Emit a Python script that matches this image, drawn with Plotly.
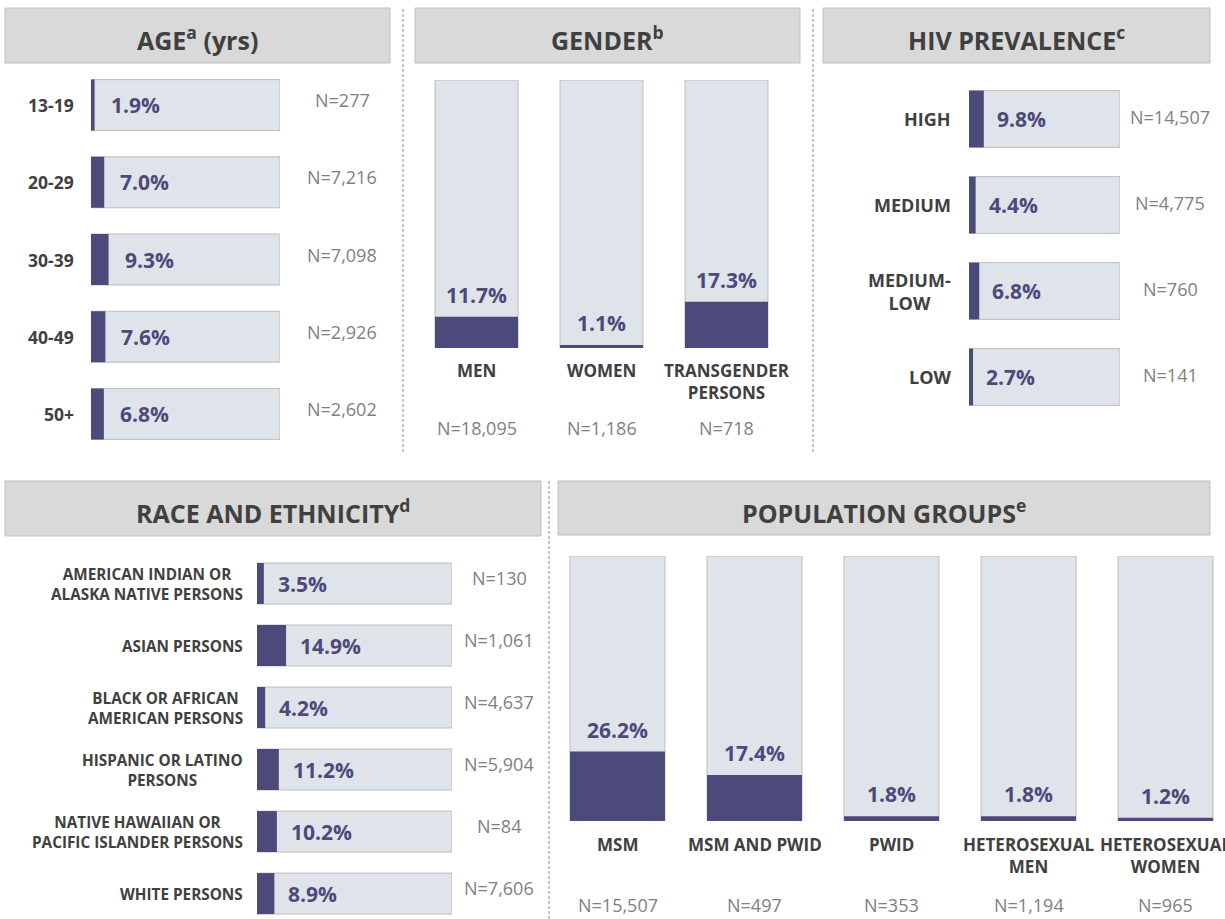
import plotly.graph_objects as go

# ---------------- data ----------------
age_labels = ["13-19", "20-29", "30-39", "40-49", "50+"]
age_pct = [1.9, 7.0, 9.3, 7.6, 6.8]
age_n = [277, 7216, 7098, 2926, 2602]

gender_labels = ["MEN", "WOMEN", "TRANSGENDER<br>PERSONS"]
gender_pct = [11.7, 1.1, 17.3]
gender_n = [18095, 1186, 718]

hiv_labels = ["HIGH", "MEDIUM", "MEDIUM-<br>LOW", "LOW"]
hiv_pct = [9.8, 4.4, 6.8, 2.7]
hiv_n = [14507, 4775, 760, 141]

race_labels = ["AMERICAN INDIAN OR<br>ALASKA NATIVE PERSONS", "ASIAN PERSONS",
               "BLACK OR AFRICAN<br>AMERICAN PERSONS", "HISPANIC OR LATINO<br>PERSONS",
               "NATIVE HAWAIIAN OR<br>PACIFIC ISLANDER PERSONS", "WHITE PERSONS"]
race_pct = [3.5, 14.9, 4.2, 11.2, 10.2, 8.9]
race_n = [130, 1061, 4637, 5904, 84, 7606]

pop_labels = ["MSM", "MSM AND PWID", "PWID", "HETEROSEXUAL<br>MEN", "HETEROSEXUAL<br>WOMEN"]
pop_pct = [26.2, 17.4, 1.8, 1.8, 1.2]
pop_n = [15507, 497, 353, 1194, 965]

headers = ["AGE<sup>a</sup> (yrs)", "GENDER<sup>b</sup>", "HIV PREVALENCE<sup>c</sup>",
           "RACE AND ETHNICITY<sup>d</sup>", "POPULATION GROUPS<sup>e</sup>"]

SCALE_MAX = 100

# ---------------- style ----------------
W, H = 1225, 919
FILL = "#4B4A7B"
BG = "#DFE3EA"
EDGE = "#BDBDBD"
DARK = "#404040"
GREY = "#808080"
FONT = "Open Sans"
PCT_SIZE = 21
N_SIZE = 18


def fx(p):
    return p / W


def fy(p):
    return 1 - p / H


fig = go.Figure()
annotations = []
shapes = []
layout_axes = {}


def names(i):
    return (("x" if i == 1 else f"x{i}"), ("y" if i == 1 else f"y{i}"),
            ("xaxis" if i == 1 else f"xaxis{i}"), ("yaxis" if i == 1 else f"yaxis{i}"))


def hpanel(i, labels, pct, ns, x0, x1, ytop, ybot, yrange, width,
           lab_size, lab_shift, n_shift, n_yshift, pct_shift):
    xr, yr, xk, yk = names(i)
    n = len(labels)
    fig.add_trace(go.Bar(x=[SCALE_MAX] * n, y=labels, orientation="h", width=width,
                         marker=dict(color=BG, line=dict(color=EDGE, width=1)),
                         xaxis=xr, yaxis=yr, hoverinfo="skip", showlegend=False))
    fig.add_trace(go.Bar(x=pct, y=labels, orientation="h", width=width,
                         marker=dict(color=FILL, line=dict(width=0)),
                         xaxis=xr, yaxis=yr, hoverinfo="skip", showlegend=False))
    layout_axes[xk] = dict(domain=[fx(x0), fx(x1)], range=[0, SCALE_MAX], visible=False,
                           anchor=yr, fixedrange=True)
    layout_axes[yk] = dict(domain=[fy(ybot), fy(ytop)], type="category", categoryorder="array",
                           categoryarray=labels, range=yrange, visible=False, anchor=xr,
                           fixedrange=True)
    for lab, v, nn in zip(labels, pct, ns):
        annotations.append(dict(x=v, y=lab, xref=xr, yref=yr, xanchor="left", xshift=pct_shift,
                                text=f"{v:.1f}%", showarrow=False,
                                font=dict(family=FONT, size=PCT_SIZE, color=FILL, weight="bold")))
        annotations.append(dict(x=SCALE_MAX, y=lab, xref=xr, yref=yr, xanchor="center",
                                xshift=n_shift, yshift=n_yshift, text=f"N={nn:,}", showarrow=False,
                                font=dict(family=FONT, size=N_SIZE, color=GREY)))
        annotations.append(dict(x=0, y=lab, xref=xr, yref=yr, xanchor="right", xshift=lab_shift,
                                text=lab, align="center", showarrow=False,
                                font=dict(family=FONT, size=lab_size, color=DARK, weight="bold")))


def vpanel(i, labels, pct, ns, x0, x1, xrange, ytop, ybot, width, lab_shift, n_shift):
    xr, yr, xk, yk = names(i)
    n = len(labels)
    fig.add_trace(go.Bar(x=labels, y=[SCALE_MAX] * n, width=width,
                         marker=dict(color=BG, line=dict(color=EDGE, width=1)),
                         xaxis=xr, yaxis=yr, hoverinfo="skip", showlegend=False))
    fig.add_trace(go.Bar(x=labels, y=pct, width=width,
                         marker=dict(color=FILL, line=dict(width=0)),
                         xaxis=xr, yaxis=yr, hoverinfo="skip", showlegend=False))
    layout_axes[xk] = dict(domain=[fx(x0), fx(x1)], type="category", categoryorder="array",
                           categoryarray=labels, range=xrange, visible=False, anchor=yr,
                           fixedrange=True)
    layout_axes[yk] = dict(domain=[fy(ybot), fy(ytop)], range=[0, SCALE_MAX], visible=False,
                           anchor=xr, fixedrange=True)
    for lab, v, nn in zip(labels, pct, ns):
        annotations.append(dict(x=lab, y=v, xref=xr, yref=yr, yanchor="bottom", yshift=6,
                                text=f"{v:.1f}%", showarrow=False,
                                font=dict(family=FONT, size=PCT_SIZE, color=FILL, weight="bold")))
        annotations.append(dict(x=lab, y=0, xref=xr, yref=yr, yanchor="top", yshift=lab_shift,
                                text=lab, align="center", showarrow=False,
                                font=dict(family=FONT, size=17, color=DARK, weight="bold")))
        annotations.append(dict(x=lab, y=0, xref=xr, yref=yr, yanchor="top", yshift=n_shift,
                                text=f"N={nn:,}", showarrow=False,
                                font=dict(family=FONT, size=N_SIZE, color=GREY)))


# panels
hpanel(1, age_labels, age_pct, age_n, 91, 280, 66.5, 452.5, [4.5, -0.5], 0.66,
       17.5, -15, 62, 5, 14)
vpanel(2, gender_labels, gender_pct, gender_n, 414, 789, [-0.5, 2.5], 80, 348, 0.664, -9, -66)
hpanel(3, hiv_labels, hiv_pct, hiv_n, 969, 1120, 76, 420, [3.5, -0.5], 0.66,
       18, -16, 50, 2, 11)
hpanel(4, race_labels, race_pct, race_n, 257, 452, 552.5, 919, [5.41, -0.5], 0.66,
       15.3, -12, 47, 6, 12)
vpanel(5, pop_labels, pop_pct, pop_n, 549, 1225, [-0.5, 4.434], 556, 821, 0.693, -10, -70)

# header boxes
boxes = [(5, 8, 390, 63), (415, 8, 800, 63), (823, 8, 1210, 63),
         (5, 481, 541, 536), (558, 481, 1210, 535)]
for (x0, y0, x1, y1), t in zip(boxes, headers):
    shapes.append(dict(type="rect", xref="paper", yref="paper", x0=fx(x0), x1=fx(x1),
                       y0=fy(y1), y1=fy(y0), fillcolor="#D9D9D9",
                       line=dict(color="#BFBFBF", width=1), layer="below"))
    annotations.append(dict(x=fx((x0 + x1) / 2), y=fy((y0 + y1) / 2), xref="paper", yref="paper",
                            xanchor="center", yanchor="middle", yshift=-3, text=t, showarrow=False,
                            font=dict(family=FONT, size=25, color=DARK, weight="bold")))

# dashed dividers
for x, y0, y1 in [(403, 8, 452), (813, 8, 452), (549, 480, 919)]:
    shapes.append(dict(type="line", xref="paper", yref="paper", x0=fx(x), x1=fx(x),
                       y0=fy(y1), y1=fy(y0), line=dict(color="#8C8C8C", width=1, dash="3px,2px")))

fig.update_layout(width=W, height=H, margin=dict(l=0, r=0, t=0, b=0),
                  paper_bgcolor="white", plot_bgcolor="rgba(0,0,0,0)",
                  barmode="overlay", showlegend=False,
                  annotations=annotations, shapes=shapes, **layout_axes)

fig.write_html("out.html", config={"displayModeBar": False},
               post_script="document.body.style.margin='0';document.body.style.overflow='hidden';")
